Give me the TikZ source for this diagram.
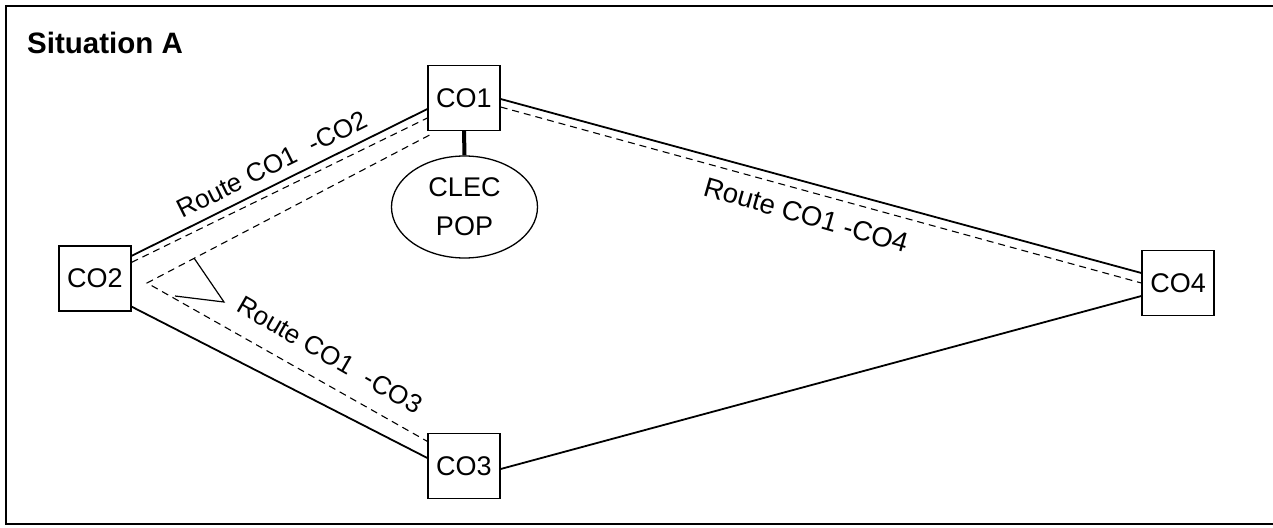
\documentclass[tikz,border=0pt]{standalone}
\usepackage{fontspec}
\setmainfont{Liberation Sans}
\usetikzlibrary{shapes.geometric}

\begin{document}
\begin{tikzpicture}[x=1pt,y=-1pt,
    office/.style={draw, line width=1.3pt, minimum width=72pt, minimum height=65pt,
        inner sep=0pt, font=\fontsize{27}{30}\selectfont},
    link/.style={line width=1.8pt},
    route/.style={line width=1.1pt, dash pattern=on 7pt off 5pt},
    routelabel/.style={inner sep=0pt, font=\fontsize{26}{30}\selectfont}]
    \useasboundingbox (0,0) rectangle (1273,527);

    % frame and title
    \draw[line width=2pt] (1280,6) -- (6,6) -- (6,524) -- (1280,524);
    \node[anchor=base west, inner sep=0pt, font=\bfseries\fontsize{29.5}{32}\selectfont] (title) at (27,53) {Situation A};

    % central offices
    \node[office] (co1) at (464,98) {CO1};
    \node[office] (co2) at (95,278.5) {CO2};
    \node[office] (co3) at (464,466) {CO3};
    \node[office] (co4) at (1178,283) {CO4};

    % clec point of presence
    \node[draw, ellipse, line width=1.3pt, minimum width=146pt, minimum height=102pt,
        inner sep=0pt, align=center, font=\fontsize{27}{39}\selectfont] (pop) at (464.5,207) {CLEC\\POP};
    \draw[line width=4pt] (co1.south) -- (pop.north);

    % links
    \draw[link] ([yshift=-10.5pt]co2.north east) -- ([yshift=-11pt]co1.west);
    \draw[link] ([yshift=5pt]co2.south east) -- ([yshift=8pt]co3.west);
    \draw[link] ([yshift=-1pt]co1.east) -- ([yshift=10pt]co4.west);
    \draw[link] ([yshift=-3pt]co3.east) -- ([yshift=-13pt]co4.west);

    % routes
    \coordinate (turn) at (147,283);
    \draw[route] ([yshift=-17pt]co2.north east) -- ([yshift=-20pt]co1.west);
    \draw[route] ([xshift=2pt,yshift=-4pt]co1.south west) -- (turn) -- ([yshift=-8.5pt]co3.north west);
    \draw[route] ([yshift=-9pt]co1.east) -- (co4.west);

    % pointer
    \draw[line width=1.2pt] (194,258) -- (224,302) -- (175,296);

    % route labels
    \node[routelabel, rotate=26.5] (lbl12) at (272,164.5) {Route CO1\hspace{16pt}-CO2};
    \node[routelabel, rotate=-30] (lbl13) at (330,355) {Route CO1\hspace{16pt}-CO3};
    \node[routelabel, rotate=-16, font=\fontsize{27.5}{30}\selectfont] (lbl14) at (806,215) {Route CO1 -CO4};
\end{tikzpicture}
\end{document}
